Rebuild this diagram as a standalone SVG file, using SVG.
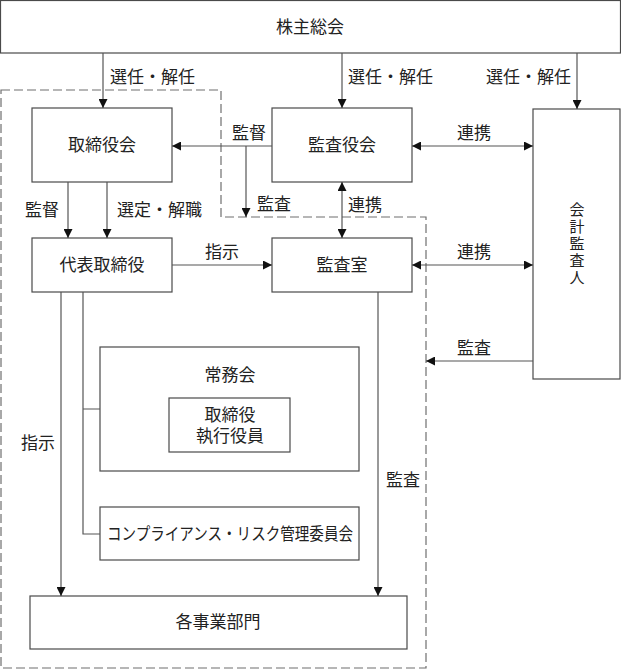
<svg xmlns="http://www.w3.org/2000/svg" width="621" height="669" viewBox="0 0 621 669">
<style>
.box{fill:#fff;stroke:#4a4a4a;stroke-width:1.2}
.ln{fill:none;stroke:#555;stroke-width:1.2}
.dash{fill:none;stroke:#6f6f6f;stroke-width:1.2;stroke-dasharray:9 4}
text{font-family:"Liberation Serif","Noto Sans CJK JP",serif;font-size:17px;fill:#222}
.c{text-anchor:middle;dominant-baseline:central}
.l{dominant-baseline:central}
.v{font-size:15px}
</style>
<defs>
<marker id="ar" viewBox="0 0 10 10" refX="10" refY="5" markerWidth="9" markerHeight="9" markerUnits="userSpaceOnUse" orient="auto-start-reverse">
<path d="M0,0 L10,5 L0,10 Z" fill="#111"/>
</marker>
</defs>
<path class="dash" d="M1,90 H221 V217 H426 V668 H1 Z"/>
<g id="kabunushi"><rect class="box" x="0.5" y="0.5" width="620" height="52.5"/><text class="c" x="310" y="27">株主総会</text></g>
<g id="torishimariyakukai"><rect class="box" x="32" y="108" width="140" height="74"/><text class="c" x="102" y="145">取締役会</text></g>
<g id="kansayakukai"><rect class="box" x="272" y="108" width="140" height="74"/><text class="c" x="342" y="145">監査役会</text></g>
<g id="kaikei"><rect class="box" x="533" y="109" width="87" height="270"/><text class="c v" x="577" y="210">会</text><text class="c v" x="577" y="227">計</text><text class="c v" x="577" y="244">監</text><text class="c v" x="577" y="261">査</text><text class="c v" x="577" y="278">人</text></g>
<g id="daihyo"><rect class="box" x="32" y="238" width="140" height="54"/><text class="c" x="102" y="265">代表取締役</text></g>
<g id="kansashitsu"><rect class="box" x="272" y="238" width="140" height="54"/><text class="c" x="342" y="265">監査室</text></g>
<g id="jomukai"><rect class="box" x="100" y="347" width="259" height="124"/><text class="c" x="230" y="375">常務会</text>
<rect class="box" x="169" y="398" width="121" height="54"/><text class="c" x="230" y="415">取締役</text><text class="c" x="230" y="436">執行役員</text></g>
<g id="compliance"><rect class="box" x="100" y="507" width="259" height="53"/><text class="c" x="230" y="534" textLength="246" lengthAdjust="spacingAndGlyphs">コンプライアンス・リスク管理委員会</text></g>
<g id="jigyobu"><rect class="box" x="30" y="596" width="377" height="53"/><text class="c" x="218" y="622">各事業部門</text></g>
<g id="connectors">
<line class="ln" x1="103" y1="53" x2="103" y2="108" marker-end="url(#ar)"/>
<line class="ln" x1="342" y1="53" x2="342" y2="108" marker-end="url(#ar)"/>
<line class="ln" x1="577" y1="53" x2="577" y2="109" marker-end="url(#ar)"/>
<line class="ln" x1="272" y1="146" x2="172" y2="146" marker-end="url(#ar)"/>
<line class="ln" x1="246" y1="146" x2="246" y2="217" marker-end="url(#ar)"/>
<line class="ln" x1="412" y1="146" x2="533" y2="146" marker-start="url(#ar)" marker-end="url(#ar)"/>
<line class="ln" x1="342" y1="182" x2="342" y2="238" marker-start="url(#ar)" marker-end="url(#ar)"/>
<line class="ln" x1="68" y1="182" x2="68" y2="238" marker-end="url(#ar)"/>
<line class="ln" x1="107" y1="182" x2="107" y2="238" marker-end="url(#ar)"/>
<line class="ln" x1="172" y1="265" x2="272" y2="265" marker-end="url(#ar)"/>
<line class="ln" x1="412" y1="265" x2="533" y2="265" marker-start="url(#ar)" marker-end="url(#ar)"/>
<line class="ln" x1="533" y1="361" x2="426" y2="361" marker-end="url(#ar)"/>
<line class="ln" x1="61" y1="292" x2="61" y2="596" marker-end="url(#ar)"/>
<path class="ln" d="M83,292 V534 H100 M83,409 H100"/>
<line class="ln" x1="378" y1="292" x2="378" y2="596" marker-end="url(#ar)"/>
</g>
<g id="labels">
<text class="l" x="110" y="77">選任・解任</text>
<text class="l" x="348" y="77">選任・解任</text>
<text class="l" x="486" y="77">選任・解任</text>
<text class="l" x="232" y="133">監督</text>
<text class="l" x="257" y="204">監査</text>
<text class="l" x="457" y="133">連携</text>
<text class="l" x="348" y="205">連携</text>
<text class="l" x="25" y="210">監督</text>
<text class="l" x="117" y="210">選定・解職</text>
<text class="l" x="205" y="252">指示</text>
<text class="l" x="457" y="252">連携</text>
<text class="l" x="457" y="348">監査</text>
<text class="l" x="21" y="443">指示</text>
<text class="l" x="386" y="480">監査</text>
</g>
</svg>
